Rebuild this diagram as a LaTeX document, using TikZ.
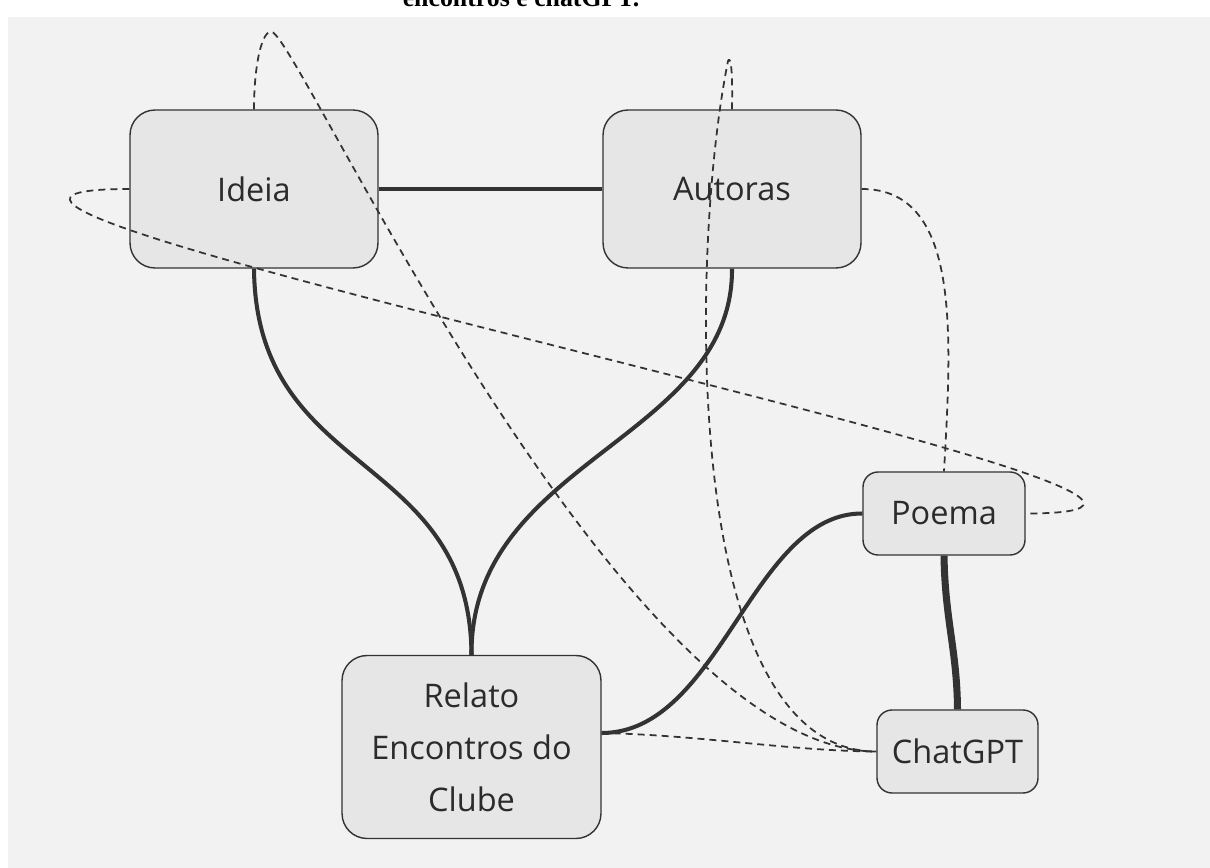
\documentclass[tikz,border=0pt]{standalone}
\usepackage{fontspec}
\setmainfont{Open Sans}
\newfontfamily\captionfont{Liberation Serif}
\definecolor{panelgray}{HTML}{F2F2F2}
\definecolor{boxgray}{HTML}{E6E6E6}
\definecolor{linegray}{HTML}{333333}
\definecolor{textgray}{HTML}{2B2B2B}

\begin{document}
\begin{tikzpicture}[
    x=0.02cm, y=-0.02cm,
    topic/.style={rectangle, draw=linegray, line width=0.8pt, fill=boxgray, rounded corners=0.5cm, text=textgray, font=\fontsize{18.5}{29.6}\selectfont, align=center, inner sep=0pt},
    subtopic/.style={topic, rounded corners=0.3cm, minimum height=1.66cm},
    link/.style={draw=linegray, line width=2.3pt},
    boldlink/.style={draw=linegray, line width=4pt},
    dashlink/.style={draw=linegray, line width=1pt, dash pattern=on 0.14cm off 0.1cm}
]

\useasboundingbox (0,0) rectangle (1210,868);
\fill[panelgray] (8,17) rectangle (1210,868);

% caption of the page, cut off at the top
\begin{scope}
\clip (0,0) rectangle (1210,17);
\node[anchor=base, font=\captionfont\bfseries\fontsize{14.7}{17}\selectfont] (caption) at (521,7) {encontros e chatGPT.};
\end{scope}

\node[topic, minimum width=4.96cm, minimum height=3.16cm] (ideia) at (254,189) {Ideia};
\node[topic, minimum width=5.16cm, minimum height=3.16cm] (autoras) at (732,189) {Autoras};
\node[topic, minimum width=5.18cm, minimum height=3.66cm] (relato) at (471.5,747) {Relato\\Encontros do\\Clube};
\node[subtopic, minimum width=3.24cm] (poema) at (944,513.5) {Poema};
\node[subtopic, minimum width=3.22cm] (chatgpt) at (957.5,751.5) {ChatGPT};

\draw[link] (ideia.east) -- (autoras.west);
\draw[link] (ideia.south) .. controls (256,480) and (470,450) .. (relato.north);
\draw[link] (autoras.south) .. controls (733,440) and (470,460) .. (relato.north);
\draw[link] ([yshift=0.28cm]relato.east) .. controls (720,733) and (752,513) .. (poema.west);
\draw[boldlink] (poema.south) .. controls (945,620) and (957,650) .. (chatgpt.north);

\draw[dashlink] (ideia.north) .. controls (254,65) and (262,29) .. (272,32) .. controls (300,40) and (620,751) .. (chatgpt.west);
\draw[dashlink] (ideia.west) .. controls (-261,189) and (1411,513) .. (poema.east);
\draw[dashlink] (autoras.north) .. controls (733,60) and (729.5,57) .. (728,61) .. controls (690,250) and (680,751) .. (chatgpt.west);
\draw[dashlink] (autoras.east) .. controls (960,189) and (952,330) .. (poema.north);
\draw[dashlink] ([yshift=0.28cm]relato.east) .. controls (700,735) and (790,751) .. (chatgpt.west);

\end{tikzpicture}
\end{document}
